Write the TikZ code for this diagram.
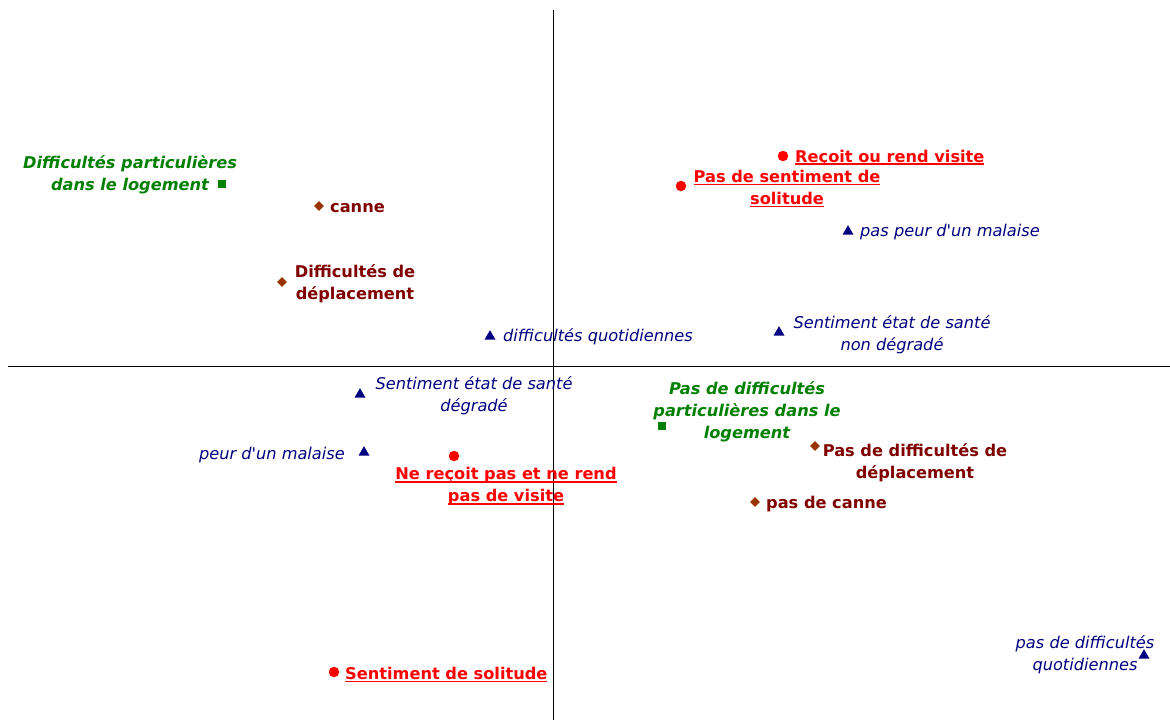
\documentclass[tikz,border=0pt]{standalone}
\usepackage{fontspec}
\setmainfont{DejaVu Sans}
\usetikzlibrary{shapes.geometric}
\definecolor{navyc}{RGB}{0,0,128}
\definecolor{maroonc}{RGB}{128,0,0}
\definecolor{brownc}{RGB}{153,51,0}
\definecolor{greenc}{RGB}{0,128,0}
\definecolor{redc}{RGB}{255,0,0}
\newcommand\myul[1]{\setbox0\hbox{#1}\leavevmode\rlap{\rule[-2.6pt]{\wd0}{1.4pt}}\box0}
\begin{document}
\begin{tikzpicture}[x=1pt,y=-1pt,
  every node/.append style={inner sep=0pt},
  dotm/.style={circle, fill=redc, minimum size=10.5pt},
  trim/.style={regular polygon, regular polygon sides=3, fill=navyc, minimum size=12.7pt, yshift=-1.5pt},
  diam/.style={diamond, fill=brownc, minimum size=10pt},
  sqm/.style={rectangle, fill=greenc, minimum size=8pt},
  lab/.style={align=center, yshift=-1.5pt},
  redlab/.style={lab, text=redc, font=\fontsize{16.2}{22}\selectfont\bfseries},
  marlab/.style={lab, text=maroonc, font=\fontsize{16.2}{22}\selectfont\bfseries},
  grnlab/.style={lab, text=greenc, font=\fontsize{16.2}{22}\selectfont\bfseries\itshape},
  blulab/.style={lab, text=navyc, font=\fontsize{16.2}{22}\selectfont\itshape},
  axis/.style={draw=black, line width=1pt}]
\useasboundingbox (0,0) rectangle (1170,720);
% axes
\coordinate (vt) at (553,10);
\coordinate (vb) at (553,720);
\coordinate (hl) at (8,366);
\coordinate (hr) at (1170,366);
\draw[axis] (vt) -- (vb);
\draw[axis] (hl) -- (hr);
% green squares
\node[sqm] (g1) at (222,184) {};
\node[grnlab] (g1t) at (130,173) {Difficultés particulières\\dans le logement};
\node[sqm] (g2) at (662,426) {};
\node[grnlab] (g2t) at (747,410) {Pas de difficultés\\particulières dans le\\logement};
% diamonds
\node[diam] (d1) at (319,206) {};
\node[marlab, anchor=west] (d1t) at (330,207) {canne};
\node[diam] (d2) at (282,282) {};
\node[marlab] (d2t) at (355,282) {Difficultés de\\déplacement};
\node[diam] (d3) at (815,446) {};
\node[marlab] (d3t) at (915,461) {Pas de difficultés de\\déplacement};
\node[diam] (d4) at (755,502) {};
\node[marlab, anchor=west] (d4t) at (766,503) {pas de canne};
% red dots
\node[dotm] (r1) at (783,156) {};
\node[redlab, anchor=west] (r1t) at (795,156) {\myul{Reçoit ou rend visite}};
\node[dotm] (r2) at (681,186) {};
\node[redlab] (r2t) at (787,187) {\myul{Pas de sentiment de}\\\myul{solitude}};
\node[dotm] (r3) at (454,456) {};
\node[redlab] (r3t) at (506,485) {\myul{Ne reçoit pas et ne rend}\\\myul{pas de visite}};
\node[dotm] (r4) at (334,672) {};
\node[redlab, anchor=west] (r4t) at (345,673) {\myul{Sentiment de solitude}};
% triangles
\node[trim] (t1) at (848,230) {};
\node[blulab, anchor=west] (t1t) at (860,231) {pas peur d\textquotesingle un malaise};
\node[trim] (t2) at (490,335) {};
\node[blulab, anchor=west] (t2t) at (503,335) {difficultés quotidiennes};
\node[trim] (t3) at (779,331) {};
\node[blulab] (t3t) at (892,333) {Sentiment état de santé\\non dégradé};
\node[trim] (t4) at (360,393) {};
\node[blulab] (t4t) at (474,394) {Sentiment état de santé\\dégradé};
\node[trim] (t5) at (364,451) {};
\node[blulab, anchor=east] (t5t) at (345,454) {peur d\textquotesingle un malaise};
\node[trim] (t6) at (1144,654) {};
\node[blulab] (t6t) at (1085,653) {pas de difficultés\\quotidiennes};
\end{tikzpicture}
\end{document}
